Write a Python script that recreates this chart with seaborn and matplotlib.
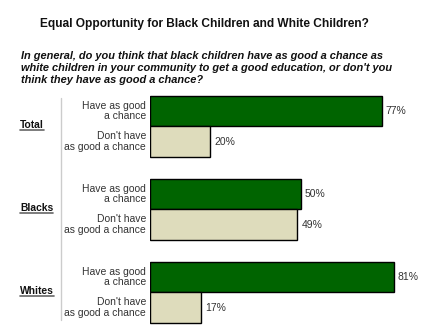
import matplotlib
matplotlib.use("Agg")
import matplotlib.pyplot as plt
from matplotlib.lines import Line2D
import seaborn as sns
import pandas as pd

# ---- data ----
groups = ["Total", "Blacks", "Whites"]
responses = ["Have as good\na chance", "Don't have\nas good a chance"]
have_values = [77, 50, 81]
dont_values = [20, 49, 17]
title = "Equal Opportunity for Black Children and White Children?"
subtitle = ("In general, do you think that black children have as good a chance as\n"
            "white children in your community to get a good education, or don't you\n"
            "think they have as good a chance?")

df = pd.DataFrame({
    "group": groups * 2,
    "response": [responses[0]] * len(groups) + [responses[1]] * len(groups),
    "value": have_values + dont_values,
})

sns.set_theme(style="white")
plt.rcParams["font.family"] = ["Liberation Sans", "DejaVu Sans"]

W, H = 440, 330
fig = plt.figure(figsize=(W / 100, H / 100), dpi=100)
fig.patch.set_facecolor("white")

ax_left, ax_right, ax_top, ax_bottom = 150, 440, 90, 330
ax = fig.add_axes([ax_left / W, 1 - ax_bottom / H, (ax_right - ax_left) / W, (ax_bottom - ax_top) / H])

palette = {responses[0]: "#006400", responses[1]: "#dedcbc"}
sns.barplot(data=df, y="group", x="value", hue="response", order=groups,
            hue_order=responses, palette=palette, orient="h", width=0.735,
            dodge=True, edgecolor="black", linewidth=1.0, saturation=1,
            legend=False, ax=ax)

px_per_unit = 3.01
ax.set_xlim(0, (ax_right - ax_left) / px_per_unit)
ax.set_ylim(2 + (ax_bottom - 292.3) / 83, -(126.3 - ax_top) / 83)
ax.set_axis_off()

fs = 7.5
for cont, lab in zip(ax.containers, responses):
    ax.bar_label(cont, fmt="%d%%", padding=2.9, fontsize=fs, color="#333333")
    for bar in cont:
        yc = bar.get_y() + bar.get_height() / 2
        ax.text(-4 / px_per_unit, yc, lab, ha="right", va="center", fontsize=fs,
                color="#333333", linespacing=1.1, clip_on=False, multialignment="right")

# group labels (bold, underlined)
group_texts = []
for i, g in enumerate(groups):
    t = ax.text((20 - ax_left) / px_per_unit, i - 0.01, g, ha="left", va="center",
                fontsize=7.4, fontweight="bold", color="#111111", clip_on=False)
    group_texts.append(t)

# titles
fig.text(204.5 / W, 1 - 24.5 / H, title, ha="center", va="center",
         fontsize=8.6, fontweight="bold", color="#111111")
fig.text(21 / W, 1 - 51 / H, subtitle, ha="left", va="top", fontsize=7.9,
         fontweight="bold", fontstyle="italic", color="#111111", linespacing=1.28)

# grey divider line
fig.add_artist(Line2D([61 / W, 61 / W], [1 - 98 / H, 1 - 320 / H],
                      color="#cccccc", linewidth=1.0))

# underline group labels
fig.canvas.draw()
r = fig.canvas.get_renderer()
for t in group_texts:
    bb = t.get_window_extent(renderer=r)
    yline = bb.y0 + 0.5
    fig.add_artist(Line2D([bb.x0 / W, bb.x1 / W], [yline / H, yline / H],
                          color="#666666", linewidth=1.2))

fig.savefig("out.png", dpi=100, facecolor="white")
